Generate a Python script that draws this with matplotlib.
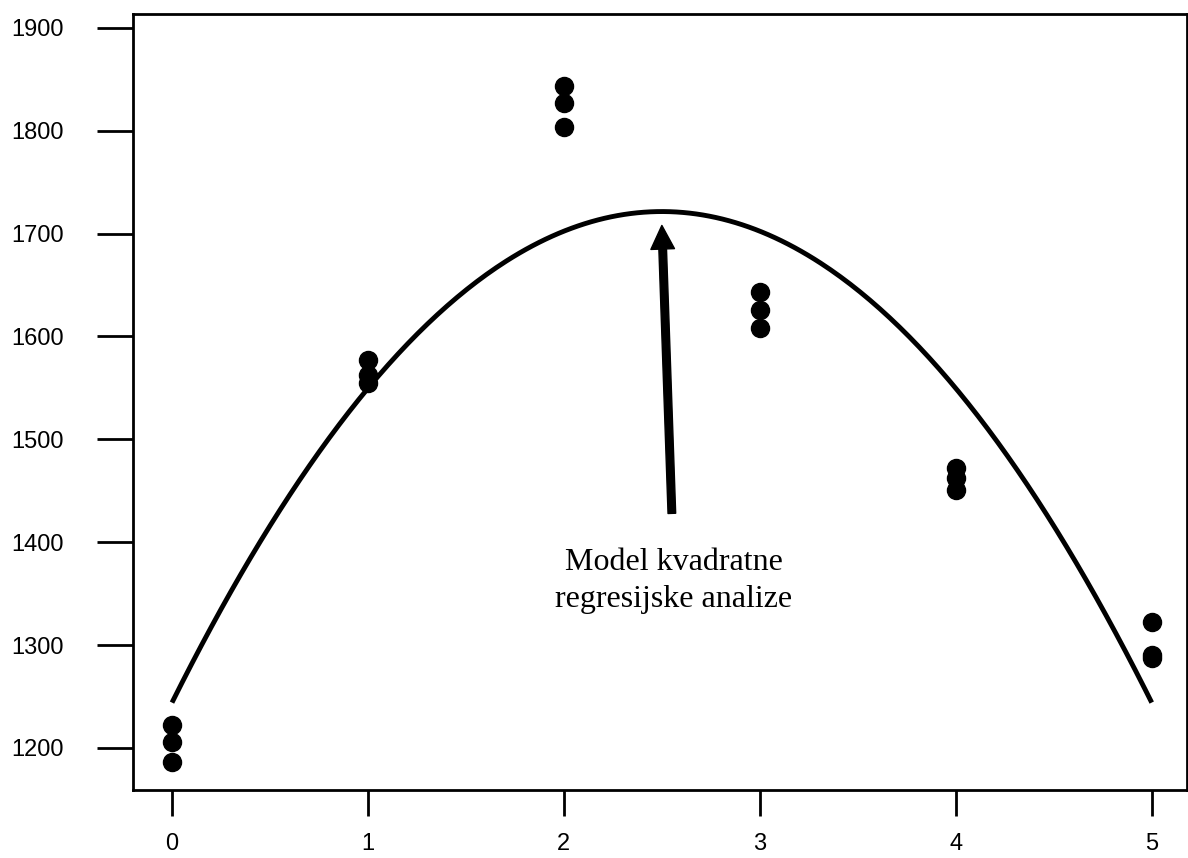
import matplotlib
matplotlib.use("Agg")
import matplotlib.pyplot as plt
import numpy as np

# Data
x_points = [0, 0, 0, 1, 1, 1, 2, 2, 2, 3, 3, 3, 4, 4, 4, 5, 5, 5]
y_points = [1222, 1206, 1186,
            1577, 1563, 1555,
            1844, 1827, 1804,
            1643, 1626, 1608,
            1472, 1462, 1451,
            1322, 1290, 1287]

# Quadratic model coefficients: y = c0 + c1*x + c2*x^2
c0 = 1244.0
c1 = 382.0
c2 = -76.4

x_ticks = [0, 1, 2, 3, 4, 5]
y_ticks = [1200, 1300, 1400, 1500, 1600, 1700, 1800, 1900]
annotation = "Model kvadratne\nregresijske analize"

fig = plt.figure(figsize=(11.88, 8.58), dpi=100)
ax = fig.add_axes([133/1188, 1 - 790/858, (1187-133)/1188, (790-14)/858])

xs = np.linspace(0, 5, 300)
ax.plot(xs, c0 + c1*xs + c2*xs**2, color="black", lw=3.5, solid_capstyle="butt")
ax.plot(x_points, y_points, "o", color="black", ms=13, mec="black")

ax.set_xlim(-0.199, 5.18)
ax.set_ylim(1159, 1913.6)
ax.set_xticks(x_ticks)
ax.set_yticks(y_ticks)
for s in ax.spines.values():
    s.set_linewidth(2.0)
ax.tick_params(axis="x", length=19, width=2, pad=12, labelsize=17, direction="out")
ax.tick_params(axis="y", length=26, width=2, pad=24, labelsize=17, direction="out")
for lab in ax.get_xticklabels() + ax.get_yticklabels():
    lab.set_family("Liberation Sans")

ax.annotate("", xy=(2.5, 1708), xytext=(2.551, 1428),
            arrowprops=dict(width=5.5, headwidth=17, headlength=17,
                            facecolor="black", edgecolor="black", shrink=0))
ax.text(2.56, 1362, annotation, ha="center", va="center",
        family="Liberation Serif", fontsize=23, linespacing=1.35)

fig.savefig("out.png", dpi=100)
